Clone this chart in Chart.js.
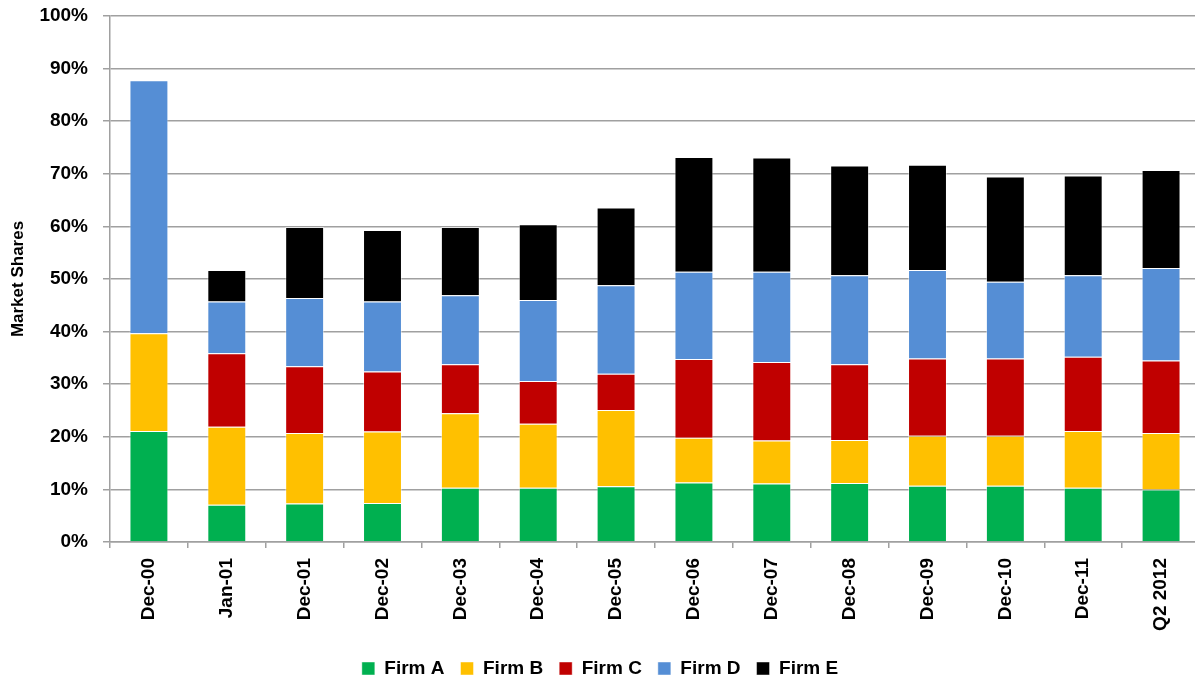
<!DOCTYPE html>
<html>
<head>
<meta charset="utf-8">
<script src="https://cdn.jsdelivr.net/npm/chart.js@4.4.1/dist/chart.umd.min.js"></script>
<style>
    html, body { margin: 0; padding: 0; background: #fff; overflow: hidden; }
    #wrap { width: 1205px; height: 679px; }
</style>
</head>
<body>
<div id="wrap"><canvas id="chart"></canvas></div>
<script>
// === DATA ===
const categories = ['Dec-00', 'Jan-01', 'Dec-01', 'Dec-02', 'Dec-03', 'Dec-04', 'Dec-05',
                    'Dec-06', 'Dec-07', 'Dec-08', 'Dec-09', 'Dec-10', 'Dec-11', 'Q2 2012'];
const firmA = [21.1, 7.1, 7.3, 7.4, 10.3, 10.3, 10.6, 11.3, 11.1, 11.2, 10.7, 10.7, 10.3, 10.0];
const firmB = [18.6, 14.8, 13.4, 13.6, 14.2, 12.2, 14.5, 8.5, 8.2, 8.2, 9.5, 9.5, 10.8, 10.7];
const firmC = [null, 14.0, 12.7, 11.4, 9.3, 8.1, 6.9, 15.0, 14.9, 14.4, 14.7, 14.7, 14.1, 13.8];
const firmD = [48.1, 9.8, 13.0, 13.3, 13.1, 15.4, 16.8, 16.6, 17.2, 16.9, 16.8, 14.6, 15.5, 17.6];
const firmE = [null, 6.0, 13.5, 13.6, 13.0, 14.4, 14.8, 21.8, 21.7, 20.9, 20.0, 20.0, 19.0, 18.6];
const yTicks = [0, 10, 20, 30, 40, 50, 60, 70, 80, 90, 100];

// === CONFIG ===
Chart.defaults.font.family = "'Liberation Sans', Arial, sans-serif";
Chart.defaults.font.weight = 'bold';
Chart.defaults.color = '#000';

const gridColor = '#a0a0a0';

function makeSet(label, data, color) {
    return {
        label: label,
        data: data,
        backgroundColor: color,
        borderColor: 'rgba(255,255,255,0.45)',
        borderWidth: 1,
        categoryPercentage: 0.5,
        barPercentage: 1.0
    };
}

new Chart(document.getElementById('chart'), {
    type: 'bar',
    data: {
        labels: categories,
        datasets: [
            makeSet('Firm A', firmA, '#00b050'),
            makeSet('Firm B', firmB, '#ffc000'),
            makeSet('Firm C', firmC, '#c00000'),
            makeSet('Firm D', firmD, '#558ed5'),
            makeSet('Firm E', firmE, '#000000')
        ]
    },
    options: {
        responsive: true,
        maintainAspectRatio: false,
        animation: false,
        layout: { padding: { top: 16, right: 5, bottom: -9, left: 0 } },
        plugins: {
            tooltip: { enabled: false },
            legend: {
                position: 'bottom',
                labels: {
                    boxWidth: 13,
                    boxHeight: 13,
                    padding: 16,
                    font: { size: 19, weight: 'bold' }
                }
            }
        },
        scales: {
            x: {
                stacked: true,
                afterFit: function(scale) { scale.height = 101; },
                grid: { drawOnChartArea: false, drawTicks: true, tickLength: 6, color: gridColor, lineWidth: 1.5 },
                border: { color: gridColor, width: 1.5 },
                ticks: { minRotation: 90, maxRotation: 90, padding: 10, font: { size: 19, weight: 'bold' } }
            },
            y: {
                stacked: true,
                min: 0,
                max: 100,
                // fixed axis width; drop the tick-label padding so the plot can start at the top margin
                afterFit: function(scale) {
                    scale.width = 110;
                    scale.paddingTop = 0;
                    scale.paddingBottom = 0;
                },
                afterBuildTicks: function(scale) { scale.ticks = yTicks.map(v => ({ value: v })); },
                grid: { color: gridColor, lineWidth: 1.5, tickLength: 7 },
                border: { color: gridColor, width: 1.5 },
                ticks: { padding: 15, font: { size: 19, weight: 'bold' }, callback: (val) => val + '%' },
                title: { display: true, text: 'Market Shares', padding: 8, font: { size: 17, weight: 'bold' } }
            }
        }
    }
});
</script>
</body>
</html>
